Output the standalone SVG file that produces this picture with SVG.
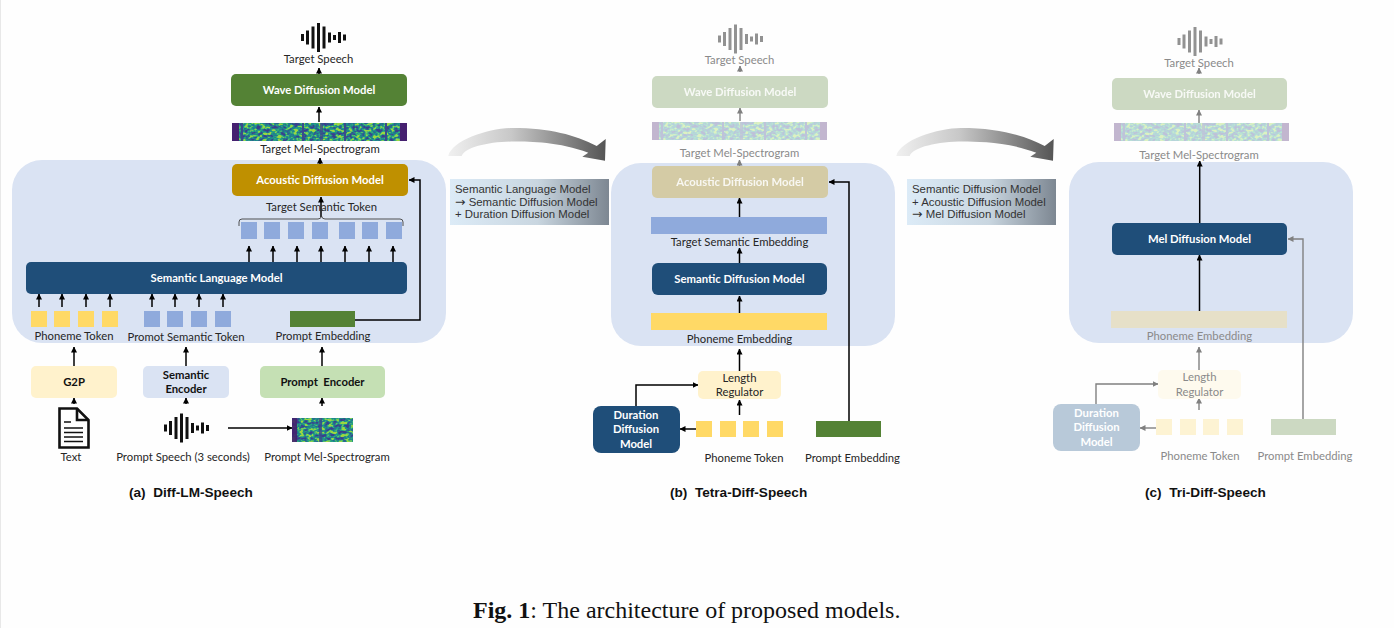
<svg xmlns="http://www.w3.org/2000/svg" width="1394" height="628" viewBox="0 0 1394 628">
<style>
text{font-family:"Lato","Open Sans",sans-serif;font-size:11.3px;fill:#262626;text-anchor:middle}
.b{font-weight:700;fill:#111}
.w{fill:#fff;font-weight:700}
.g{fill:#8a8a8a}
.cap{font-family:"Liberation Sans",Arial,sans-serif;font-weight:700;font-size:13.6px;fill:#111;text-anchor:start}
.note{font-family:"Liberation Sans",Arial,sans-serif;font-size:11.4px;fill:#333;text-anchor:start}
.ar{font-family:"DejaVu Sans",sans-serif;font-size:12.500px}
.panel{fill:#dae3f3}
.navy{fill:#1f4e79}
.yel{fill:#ffd966}
.blu{fill:#8faadc}
.grn{fill:#548235}
.c{fill:none;stroke:#000;stroke-width:1.5;marker-end:url(#ah)}
.t{fill:none;stroke:#808080;stroke-width:1.4;marker-end:url(#ag)}
</style>
<defs>
<marker id="ah" markerUnits="userSpaceOnUse" markerWidth="6" markerHeight="6" refX="5.5" refY="3" orient="auto"><path d="M0 0L6 3L0 6Z" fill="#000"/></marker>
<marker id="ag" markerUnits="userSpaceOnUse" markerWidth="6" markerHeight="6" refX="5.5" refY="3" orient="auto"><path d="M0 0L6 3L0 6Z" fill="#808080"/></marker>
<linearGradient id="ga" x1="0" x2="1" y1="0" y2="0"><stop offset="0" stop-color="#f0f0f0"/><stop offset="0.4" stop-color="#c8c8c8"/><stop offset="1" stop-color="#555"/></linearGradient>
<linearGradient id="gb" x1="0" x2="1" y1="0" y2="0"><stop offset="0" stop-color="#dcebf7"/><stop offset="0.55" stop-color="#c9d6e0"/><stop offset="1" stop-color="#7d8792"/></linearGradient>
<filter id="sp" x="0" y="0" width="1" height="1" color-interpolation-filters="sRGB">
<feTurbulence type="fractalNoise" baseFrequency="0.24 0.32" numOctaves="2" seed="11"/>
<feColorMatrix type="matrix" values="2.6 0 0 0 -0.8  2.6 0 0 0 -0.8  2.6 0 0 0 -0.8  0 0 0 0 1"/>
<feComponentTransfer>
<feFuncR type="table" tableValues=".23 .2 .14 .12 .2 .42 .62"/>
<feFuncG type="table" tableValues=".25 .36 .47 .56 .68 .78 .84"/>
<feFuncB type="table" tableValues=".55 .56 .56 .55 .48 .38 .25"/>
</feComponentTransfer>
</filter>
<g id="wav" fill="#111">
<rect x="-22" y="-3.5" width="3" height="7"/><rect x="-17" y="-7" width="3" height="14"/><rect x="-11.5" y="-11" width="3" height="22"/><rect x="-6" y="-14.5" width="3" height="29"/><rect x="-0.5" y="-11" width="3" height="22"/><rect x="5" y="-5" width="3" height="10"/><rect x="10" y="-2.5" width="3" height="5"/><rect x="15" y="-5.5" width="3" height="11"/><rect x="20" y="-3" width="3" height="6"/>
</g>
<g id="tspec">
<rect width="175" height="18" fill="#2f7f8e" filter="url(#sp)"/>
<rect width="7" height="18" fill="#45206f"/><rect x="168" width="7" height="18" fill="#45206f"/>
<rect x="9" width="2" height="18" fill="#3b4a8c"/><rect x="70" width="2" height="18" fill="#3b4a8c"/><rect x="88" width="3" height="18" fill="#3b4a8c" opacity=".8"/><rect x="112" width="2" height="18" fill="#3b4a8c"/><rect x="153" width="2" height="18" fill="#3b4a8c"/>
</g>
<path id="sweep" d="M448.3 156C452 140 490 128 513 128C550 128 575 135 596.7 146L605.7 139L605 160.7L582.3 156.7L588.3 152.7C560 142 530 141.5 515 141.5C490 141.5 465 147 461.7 156Z" fill="url(#ga)"/>
</defs>
<rect width="1394" height="628" fill="#fefefe"/>
<rect width="1" height="628" fill="#e8e8e8"/>

<g id="panels">
<rect id="panel-a" class="panel" x="12" y="160" width="434" height="183" rx="30"/>
<rect id="panel-b" class="panel" x="611" y="163" width="284" height="183" rx="30"/>
<rect id="panel-c" class="panel" x="1069" y="162" width="284" height="181" rx="30"/>
</g>

<g id="transition-ab">
<use href="#sweep"/>
<rect x="450" y="179" width="159" height="46" fill="url(#gb)"/>
<text class="note" x="455" y="193">Semantic Language Model</text>
<text class="note" x="455" y="206"><tspan class="ar">→</tspan> Semantic Diffusion Model</text>
<text class="note" x="455" y="218">+ Duration Diffusion Model</text>
</g>
<g id="transition-bc">
<use href="#sweep" x="448"/>
<rect x="907" y="179" width="149" height="46" fill="url(#gb)"/>
<text class="note" x="912" y="193">Semantic Diffusion Model</text>
<text class="note" x="912" y="206">+ Acoustic Diffusion Model</text>
<text class="note" x="912" y="218"><tspan class="ar">→</tspan> Mel Diffusion Model</text>
</g>

<g id="connectors">
<path class="c" d="M319 122V107"/><path class="c" d="M319 74V68"/><path class="c" d="M320 164V158"/>
<path class="c" d="M321 217V197"/>
<path class="c" d="M249 262V246"/><path class="c" d="M273 262V246"/><path class="c" d="M297 262V246"/><path class="c" d="M321 262V246"/><path class="c" d="M345 262V246"/><path class="c" d="M369 262V246"/><path class="c" d="M393 262V246"/>
<path class="c" d="M39 307V294"/><path class="c" d="M62 307V294"/><path class="c" d="M86 307V294"/><path class="c" d="M110 307V294"/><path class="c" d="M152 307V294"/><path class="c" d="M175 307V294"/><path class="c" d="M199 307V294"/><path class="c" d="M223 307V294"/>
<path class="c" d="M355 320H420V180H409"/>
<path class="c" d="M74 366V347"/><path class="c" d="M186 366V347"/><path class="c" d="M322 366V347"/>
<path class="c" d="M74 404V398"/><path class="c" d="M186 404V398"/><path class="c" d="M322 406V398"/>
<path class="c" d="M228 428H292"/>

<path class="t" d="M740 72V66"/><path class="t" d="M740 121V108"/><path class="t" d="M739.5 166V160"/>
<path class="c" d="M739.5 217V198"/><path class="c" d="M739.5 263V248"/><path class="c" d="M739.5 313V296"/><path class="c" d="M739.5 371V349"/><path class="c" d="M739.5 415V400"/>
<path class="c" d="M849 421V182H829"/><path class="c" d="M636 406V385H698"/><path class="c" d="M696 429H680"/>

<path class="t" d="M1199 74V68"/><path class="t" d="M1199 123V110"/>
<path class="c" d="M1199.7 223V161"/><path class="c" d="M1199.5 311V255"/>
<path class="t" d="M1303 419V239H1288"/><path class="t" d="M1096 404V384H1158"/><path class="t" d="M1156 428H1140"/><path class="t" d="M1199 410V398"/><path class="t" d="M1199 370V347"/>
</g>

<g id="a-target-speech"><use href="#wav" x="323" y="37.5"/><text x="318.500" y="63">Target Speech</text></g>
<g id="a-wave-model"><rect class="grn" x="231" y="74" width="176" height="32" rx="5"/><text class="w" x="319" y="94">Wave Diffusion Model</text></g>
<g id="a-target-mel"><use href="#tspec" x="232" y="123"/><text x="320" y="153">Target Mel-Spectrogram</text></g>
<g id="a-acoustic-model"><rect x="232" y="164" width="176" height="32" rx="5" fill="#bf9000"/><text class="w" x="320" y="184">Acoustic Diffusion Model</text></g>
<g id="a-target-token">
<text x="321.500" y="211">Target Semantic Token</text>
<path d="M239 226V222Q239 219 242 219H318Q321 219 321.500 216Q322 219 325 219H400Q403 219 403 222V226" fill="none" stroke="#404040" stroke-width=".9"/>
<rect class="blu" x="241" y="222" width="16" height="17"/><rect class="blu" x="264" y="222" width="16" height="17"/><rect class="blu" x="288" y="222" width="16" height="17"/><rect class="blu" x="312" y="222" width="16" height="17"/><rect class="blu" x="339" y="222" width="16" height="17"/><rect class="blu" x="362" y="222" width="16" height="17"/><rect class="blu" x="386" y="222" width="16" height="17"/>
</g>
<g id="a-language-model"><rect class="navy" x="26" y="262" width="381" height="32" rx="5"/><text class="w" x="216.500" y="282">Semantic Language Model</text></g>
<g id="a-phoneme-token">
<rect class="yel" x="31" y="311" width="16" height="16"/><rect class="yel" x="54" y="311" width="16" height="16"/><rect class="yel" x="78" y="311" width="16" height="16"/><rect class="yel" x="102" y="311" width="16" height="16"/>
<text x="74" y="340">Phoneme Token</text></g>
<g id="a-prompt-token">
<rect class="blu" x="144" y="311" width="16" height="16"/><rect class="blu" x="167" y="311" width="16" height="16"/><rect class="blu" x="191" y="311" width="16" height="16"/><rect class="blu" x="215" y="311" width="16" height="16"/>
<text x="186" y="341">Promot Semantic Token</text></g>
<g id="a-prompt-embedding"><rect class="grn" x="290" y="311" width="65" height="16"/><text x="323" y="340">Prompt Embedding</text></g>
<g id="a-g2p"><rect x="31" y="366" width="86" height="32" rx="5" fill="#fff2cc"/><text class="b" x="74" y="386">G2P</text></g>
<g id="a-semantic-encoder"><rect x="143" y="366" width="86" height="32" rx="5" fill="#dae3f3"/><text class="b" x="186" y="379">Semantic</text><text class="b" x="186" y="393">Encoder</text></g>
<g id="a-prompt-encoder"><rect x="260" y="366" width="125" height="32" rx="5" fill="#c5e0b4"/><text class="b" x="322.500" y="386" xml:space="preserve">Prompt  Encoder</text></g>
<g id="a-text">
<path d="M59.500 408.500H77L88.500 420V447.500H59.500Z" fill="#fff" stroke="#111" stroke-width="2.600"/>
<path d="M77 408.500V420H88.500" fill="none" stroke="#111" stroke-width="2.600"/>
<path d="M64 422H71M64 428H83M64 432.500H83M64 437H83M64 441.500H83" stroke="#111" stroke-width="1.300"/>
<text x="71" y="461">Text</text></g>
<g id="a-prompt-speech"><use href="#wav" x="186" y="428"/><text x="183" y="461">Prompt Speech (3 seconds)</text></g>
<g id="a-prompt-mel">
<rect x="292" y="418" width="61" height="24" fill="#2f7f8e" filter="url(#sp)"/>
<rect x="292" y="418" width="5" height="24" fill="#45206f" opacity=".9"/><rect x="319" y="418" width="3" height="24" fill="#3b4a8c" opacity=".8"/>
<text x="327" y="461">Prompt Mel-Spectrogram</text></g>
<text class="cap" x="129" y="497" id="a-caption" xml:space="preserve">(a)  Diff-LM-Speech</text>

<g id="b-target-speech" opacity=".45"><use href="#wav" x="740" y="39"/></g>
<text class="g" x="739.500" y="64">Target Speech</text>
<g id="b-wave-model"><rect x="652" y="76" width="176" height="32" rx="5" fill="#ccd9c2"/><text class="w" x="740" y="96" opacity=".85">Wave Diffusion Model</text></g>
<g id="b-target-mel"><use href="#tspec" x="652" y="122" opacity=".32"/><text class="g" x="739.500" y="157">Target Mel-Spectrogram</text></g>
<g id="b-acoustic-model"><rect x="652" y="166" width="176" height="32" rx="5" fill="#d4cba5"/><text class="w" x="740" y="186" opacity=".85">Acoustic Diffusion Model</text></g>
<g id="b-semantic-embedding"><rect class="blu" x="651" y="217" width="176" height="17"/><text x="739.500" y="246">Target Semantic Embedding</text></g>
<g id="b-semantic-model"><rect class="navy" x="652" y="263" width="175" height="32" rx="6"/><text class="w" x="739.500" y="283">Semantic Diffusion Model</text></g>
<g id="b-phoneme-embedding"><rect class="yel" x="651" y="313" width="176" height="17"/><text x="739.500" y="343">Phoneme Embedding</text></g>
<g id="b-length-regulator"><rect x="698" y="371" width="83" height="28" rx="5" fill="#fff2cc"/><text x="739.500" y="382">Length</text><text x="739.500" y="396">Regulator</text></g>
<g id="b-duration-model"><rect class="navy" x="593" y="406" width="87" height="47" rx="8"/><text class="w" x="636" y="419">Duration</text><text class="w" x="636" y="433">Diffusion</text><text class="w" x="636" y="448">Model</text></g>
<g id="b-phoneme-token">
<rect class="yel" x="696" y="421" width="16" height="16"/><rect class="yel" x="720" y="421" width="16" height="16"/><rect class="yel" x="743" y="421" width="16" height="16"/><rect class="yel" x="767" y="421" width="16" height="16"/>
<text x="744" y="462">Phoneme Token</text></g>
<g id="b-prompt-embedding"><rect class="grn" x="816" y="421" width="65" height="16"/><text x="852.500" y="462">Prompt Embedding</text></g>
<text class="cap" x="670" y="497" id="b-caption" xml:space="preserve">(b)  Tetra-Diff-Speech</text>

<g id="c-target-speech" opacity=".45"><use href="#wav" x="1199.500" y="41.500"/></g>
<text class="g" x="1199" y="67">Target Speech</text>
<g id="c-wave-model"><rect x="1112" y="78" width="175" height="32" rx="5" fill="#ccd9c2"/><text class="w" x="1199.500" y="98" opacity=".85">Wave Diffusion Model</text></g>
<g id="c-target-mel"><use href="#tspec" x="1114" y="123" opacity=".32"/><text class="g" x="1199" y="159">Target Mel-Spectrogram</text></g>
<g id="c-mel-model"><rect class="navy" x="1112" y="223" width="175" height="32" rx="5"/><text class="w" x="1199.500" y="243">Mel Diffusion Model</text></g>
<g id="c-phoneme-embedding"><rect x="1111" y="311" width="176" height="17" fill="#e6e0c8"/><text class="g" x="1199.500" y="340">Phoneme Embedding</text></g>
<g id="c-length-regulator"><rect x="1158" y="370" width="83" height="29" rx="5" fill="#fefaee"/><text class="g" x="1199.500" y="381">Length</text><text class="g" x="1199.500" y="396">Regulator</text></g>
<g id="c-duration-model"><rect x="1053" y="404" width="87" height="47" rx="8" fill="#b8c9d9"/><text class="w" x="1096.500" y="417">Duration</text><text class="w" x="1096.500" y="431">Diffusion</text><text class="w" x="1096.500" y="446">Model</text></g>
<g id="c-phoneme-token" fill="#fdf3d3">
<rect x="1156" y="419" width="16" height="16"/><rect x="1180" y="419" width="16" height="16"/><rect x="1203" y="419" width="16" height="16"/><rect x="1227" y="419" width="16" height="16"/>
<text class="g" x="1200" y="460">Phoneme Token</text></g>
<g id="c-prompt-embedding"><rect x="1271" y="419" width="65" height="16" fill="#ccd9c2"/><text class="g" x="1305" y="460">Prompt Embedding</text></g>
<text class="cap" x="1145" y="497" id="c-caption" xml:space="preserve">(c)  Tri-Diff-Speech</text>

<text id="figure-caption" x="473" y="618" style="font-family:'Liberation Serif','Times New Roman',serif;font-size:24px;fill:#111;text-anchor:start"><tspan font-weight="700">Fig. 1</tspan>: The architecture of proposed models.</text>
</svg>
